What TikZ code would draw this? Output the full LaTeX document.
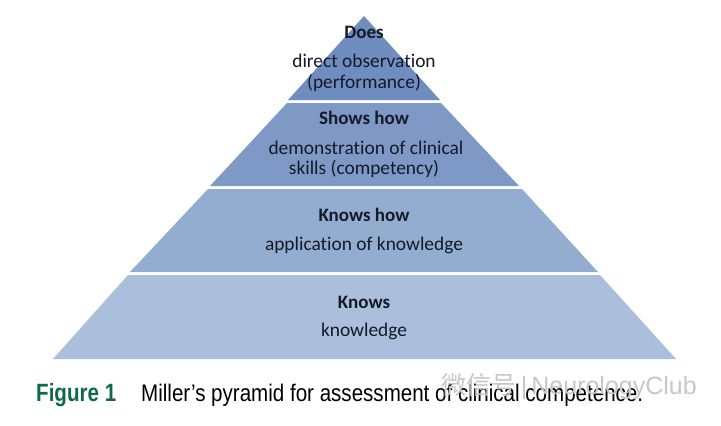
\documentclass[tikz,border=0pt]{standalone}
\usepackage{fontspec}
\setmainfont[Ligatures=NoCommon]{Carlito}
\newfontfamily\capfont{Liberation Sans}
\newfontfamily\cjk{Noto Sans CJK SC}
\definecolor{lvla}{HTML}{6F8DBF}
\definecolor{lvlb}{HTML}{7F99C7}
\definecolor{lvlc}{HTML}{93ADD0}
\definecolor{lvld}{HTML}{ABBEDC}
\definecolor{figgreen}{HTML}{0F6B45}
\definecolor{txt}{HTML}{141A28}
\tikzset{
  tier/.style={draw=none},
  lab/.style={font=\fontsize{19.4}{22}\selectfont,text=txt,inner sep=0pt,anchor=center,align=center},
  labb/.style={lab,font=\fontsize{19}{22}\selectfont\bfseries},
  capt/.style={anchor=base west,inner sep=0pt},
}
\begin{document}
\begin{tikzpicture}[x=1pt,y=-1pt]
\useasboundingbox (0,0) rectangle (721,426);
\fill[white] (0,0) rectangle (721,426);
\fill[tier,lvla] (364,16) -- (440,100) -- (288,100) -- cycle;
\fill[tier,lvlb] (287,103) -- (441,103) -- (519,186) -- (210,186) -- cycle;
\fill[tier,lvlc] (208,189) -- (522,189) -- (598,272) -- (130,272) -- cycle;
\fill[tier,lvld] (128,275) -- (600,275) -- (676,359) -- (53,359) -- cycle;
\node[labb] (does) at (364,32) {Does};
\node[lab] (doesa) at (364,61) {direct observation};
\node[lab] (doesb) at (364,83) {(performance)};
\node[labb] (shows) at (364,118) {Shows how};
\node[lab] (showsa) at (366,148) {demonstration of clinical};
\node[lab] (showsb) at (364,169) {skills (competency)};
\node[labb] (knowshow) at (364,215) {Knows how};
\node[lab] (app) at (364,245) {application of knowledge};
\node[labb] (knows) at (364,302) {Knows};
\node[lab] (know) at (364,331) {knowledge};
\node[capt,text=figgreen,font=\capfont\bfseries\fontsize{25}{28}\selectfont] (fig) at (36,401) {\resizebox{80pt}{\height}{Figure 1}};
\node[capt,text=black,font=\capfont\fontsize{24}{28}\selectfont] (cap) at (141,401) {\resizebox{502pt}{\height}{Miller’s pyramid for assessment of clinical competence.}};
\node[anchor=base east,inner sep=0pt,text=black!22,font=\capfont\fontsize{25}{28}\selectfont] (wm) at (697,394) {{\cjk 微信号}\,|\,NeurologyClub};
\end{tikzpicture}
\end{document}
